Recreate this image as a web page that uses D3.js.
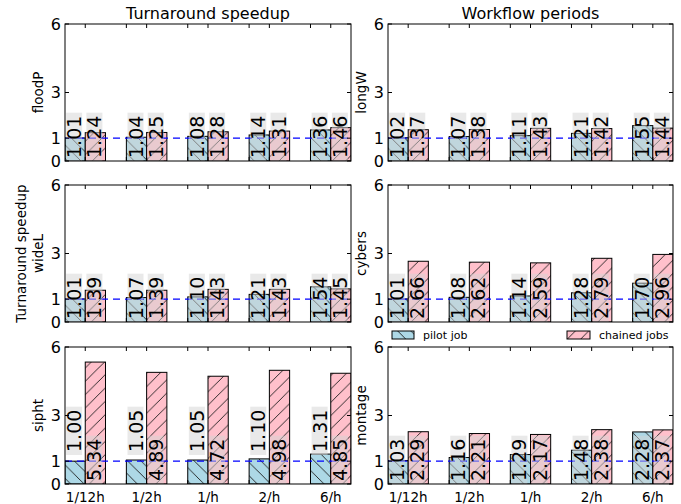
<!DOCTYPE html>
<html>
<head>
<meta charset="utf-8">
<script src="https://cdn.jsdelivr.net/npm/d3@7"></script>
<style>
  body { margin: 0; background: #fff; }
  svg { display: block; }
  text { font-family: "DejaVu Sans", sans-serif; fill: #000; }
</style>
</head>
<body>
<svg id="chart" width="681" height="504"></svg>
<script>
// Submission rates on the x axis
const rates = ["1/12h", "1/2h", "1/h", "2/h", "6/h"];
const yTicks = [0, 1, 3, 6];
const columnTitles = ["Turnaround speedup", "Workflow periods"];
const legendLabels = ["pilot job", "chained jobs"];
const workflows = ["floodP", "longW", "wideL", "cybers", "sipht", "montage"];

// Speedup per workflow: pilot job vs chained jobs
const floodPPilot    = [1.01, 1.04, 1.08, 1.14, 1.36];
const floodPChained  = [1.24, 1.25, 1.28, 1.31, 1.46];
const longWPilot     = [1.02, 1.07, 1.11, 1.21, 1.55];
const longWChained   = [1.37, 1.38, 1.43, 1.42, 1.44];
const wideLPilot     = [1.01, 1.07, 1.10, 1.21, 1.54];
const wideLChained   = [1.39, 1.39, 1.43, 1.43, 1.45];
const cybersPilot    = [1.01, 1.08, 1.14, 1.28, 1.70];
const cybersChained  = [2.66, 2.62, 2.59, 2.79, 2.96];
const siphtPilot     = [1.00, 1.05, 1.05, 1.10, 1.31];
const siphtChained   = [5.34, 4.89, 4.72, 4.98, 4.85];
const montagePilot   = [1.03, 1.16, 1.29, 1.48, 2.28];
const montageChained = [2.29, 2.21, 2.17, 2.38, 2.37];

const series = {
  floodP: [floodPPilot, floodPChained],
  longW: [longWPilot, longWChained],
  wideL: [wideLPilot, wideLChained],
  cybers: [cybersPilot, cybersChained],
  sipht: [siphtPilot, siphtChained],
  montage: [montagePilot, montageChained]
};

const svg = d3.select("#chart");
const colX = [[65, 351], [388, 673]];
const rowY = [[24, 161], [185, 322], [347, 484]];
const barW = 0.33;
const fills = ["#add8e6", "#ffc0cb"];
const hatchIds = ["hatchBack", "hatchFwd"];
const hatchStep = 13.33;

// Hatch patterns, anchored to the page like the plotting backend does
const defs = svg.append("defs");
const s = hatchStep;
defs.append("pattern").attr("id", "hatchFwd").attr("patternUnits", "userSpaceOnUse")
  .attr("width", s).attr("height", s)
  .append("path")
  .attr("d", `M0,${s} L${s},0 M${-s/4},${s/4} L${s/4},${-s/4} M${s*0.75},${s*1.25} L${s*1.25},${s*0.75}`)
  .attr("stroke", "#1a1a1a").attr("stroke-width", 0.9).attr("fill", "none");
defs.append("pattern").attr("id", "hatchBack").attr("patternUnits", "userSpaceOnUse")
  .attr("width", s).attr("height", s)
  .append("path")
  .attr("d", `M0,0 L${s},${s} M${-s/4},${s*0.75} L${s/4},${s*1.25} M${s*0.75},${-s/4} L${s*1.25},${s/4}`)
  .attr("stroke", "#1a1a1a").attr("stroke-width", 0.9).attr("fill", "none");

workflows.forEach((name, i) => {
  const col = i % 2, row = Math.floor(i / 2);
  const [x0, x1] = colX[col];
  const [y0, y1] = rowY[row];
  const x = d3.scaleLinear().domain([0, rates.length - 1 + 2 * barW]).range([x0, x1]);
  const y = d3.scaleLinear().domain([0, 6]).range([y1, y0]);
  const g = svg.append("g");

  const clipId = "clip" + i;
  defs.append("clipPath").attr("id", clipId).append("rect")
    .attr("x", x0).attr("y", y0).attr("width", x1 - x0).attr("height", y1 - y0);
  const plot = g.append("g").attr("clip-path", `url(#${clipId})`);

  const vals = series[name];
  // bars
  vals.forEach((arr, k) => {
    const sel = plot.selectAll(null).data(arr).enter();
    const bx = (d, j) => x(j + k * barW);
    const bw = x(barW) - x(0);
    sel.append("rect").attr("x", bx).attr("y", d => y(d))
      .attr("width", bw).attr("height", d => y(0) - y(d)).attr("fill", fills[k]);
    sel.append("rect").attr("x", bx).attr("y", d => y(d))
      .attr("width", bw).attr("height", d => y(0) - y(d))
      .attr("fill", `url(#${hatchIds[k]})`).attr("stroke", "#000").attr("stroke-width", 1);
  });

  // reference line at speedup 1
  plot.append("line").attr("x1", x0).attr("x2", x1).attr("y1", y(1)).attr("y2", y(1))
    .attr("stroke", "#0000ff").attr("stroke-width", 1.3).attr("stroke-dasharray", "7,5");

  // value labels
  const raise = d3.max(vals[1]) > 4;
  vals.forEach((arr, k) => {
    const base = (k === 0 && raise) ? 1.27 : 0;
    arr.forEach((v, j) => {
      const cx = x(j + k * barW + barW / 2) - 1;
      const lg = g.append("g").attr("transform", `translate(${cx},${y(base)}) rotate(-90)`);
      const box = lg.append("rect").attr("fill", "#d3d3d3").attr("fill-opacity", 0.5);
      const t = lg.append("text").attr("x", 3).attr("y", 0)
        .attr("dominant-baseline", "central").attr("font-size", 19).text(v.toFixed(2));
      const len = t.node().getComputedTextLength();
      box.attr("x", 0).attr("y", -8).attr("width", len + 6).attr("height", 16);
    });
  });

  // frame
  g.append("rect").attr("x", x0).attr("y", y0).attr("width", x1 - x0).attr("height", y1 - y0)
    .attr("fill", "none").attr("stroke", "#000").attr("stroke-width", 1);

  // y ticks, inward on both sides
  yTicks.forEach(tv => {
    g.append("line").attr("x1", x0).attr("x2", x0 + 4).attr("y1", y(tv)).attr("y2", y(tv)).attr("stroke", "#000");
    g.append("line").attr("x1", x1).attr("x2", x1 - 4).attr("y1", y(tv)).attr("y2", y(tv)).attr("stroke", "#000");
    g.append("text").attr("x", x0 - 4).attr("y", y(tv)).attr("text-anchor", "end")
      .attr("dominant-baseline", "central").attr("font-size", 16).text(tv);
  });

  // x ticks at group starts and group centres, inward top and bottom
  const xt = d3.range(rates.length).flatMap(j => [j, j + barW]).filter(v => v > 0);
  xt.forEach(tv => {
    g.append("line").attr("x1", x(tv)).attr("x2", x(tv)).attr("y1", y0).attr("y2", y0 + 4).attr("stroke", "#000");
    g.append("line").attr("x1", x(tv)).attr("x2", x(tv)).attr("y1", y1).attr("y2", y1 - 4).attr("stroke", "#000");
  });
  if (row === 2) {
    rates.forEach((r, j) => {
      g.append("text").attr("x", x(j + barW)).attr("y", y1 + 13).attr("text-anchor", "middle")
        .attr("dominant-baseline", "central").attr("font-size", 13.5).text(r);
    });
  }

  // y label
  const ly = (y0 + y1) / 2;
  const lx = col === 0 ? 38 : 361;
  g.append("text").attr("transform", `translate(${lx},${ly}) rotate(-90)`)
    .attr("text-anchor", "middle").attr("dominant-baseline", "central")
    .attr("font-size", 13.5).text(name);
  if (col === 0 && row === 1) {
    g.append("text").attr("transform", `translate(${lx - 17},${ly}) rotate(-90)`)
      .attr("text-anchor", "middle").attr("dominant-baseline", "central")
      .attr("font-size", 13.5).text("Turnaround speedup");
  }
  if (row === 0) {
    g.append("text").attr("x", (x0 + x1) / 2).attr("y", 13).attr("text-anchor", "middle")
      .attr("dominant-baseline", "central").attr("font-size", 16).text(columnTitles[col]);
  }
});

// legend between the last two panels of the right column
const leg = svg.append("g");
const legItems = [{x: 392, w: 22}, {x: 567, w: 23}];
legItems.forEach((it, k) => {
  leg.append("rect").attr("x", it.x).attr("y", 331).attr("width", it.w).attr("height", 8).attr("fill", fills[k]);
  leg.append("rect").attr("x", it.x).attr("y", 331).attr("width", it.w).attr("height", 8)
    .attr("fill", `url(#${hatchIds[k]})`).attr("stroke", "#000").attr("stroke-width", 1);
  leg.append("text").attr("x", it.x + it.w + 9).attr("y", 335).attr("dominant-baseline", "central")
    .attr("font-size", 11).text(legendLabels[k]);
});
</script>
</body>
</html>
